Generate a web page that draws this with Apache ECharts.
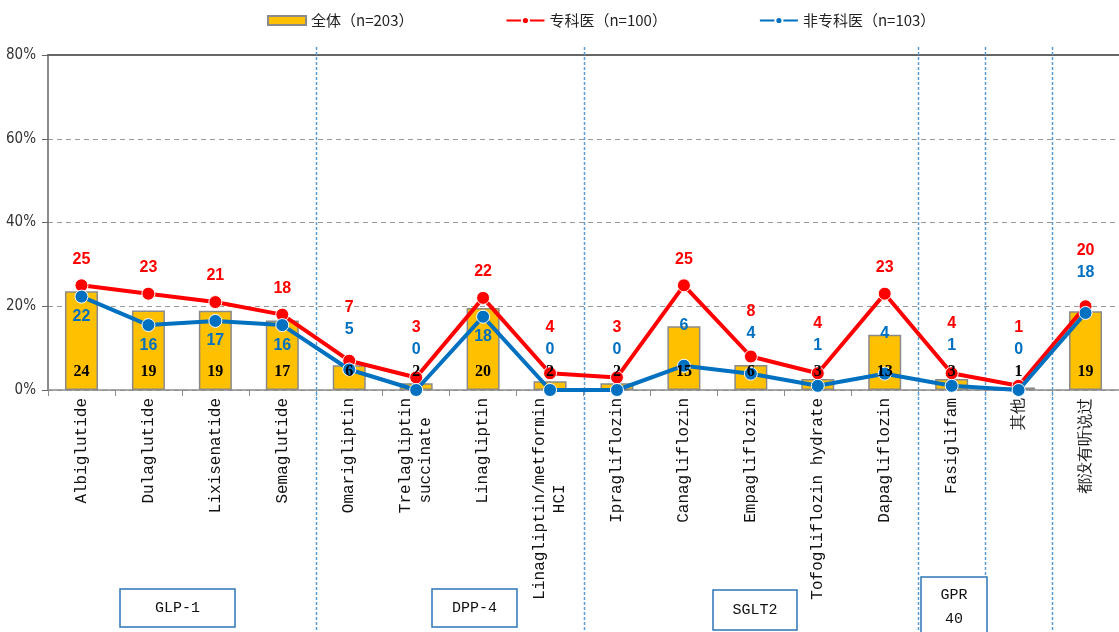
<!DOCTYPE html>
<html>
<head>
<meta charset="utf-8">
<title>chart</title>
<script src="https://cdn.jsdelivr.net/npm/echarts@6/dist/echarts.min.js"></script>
<style>
    html, body { margin: 0; padding: 0; background: #fff; }
    #main { width: 1119px; height: 632px; }
</style>
</head>
<body>
<div id="main"></div>
<script>
var categories = ['Albiglutide', 'Dulaglutide', 'Lixisenatide', 'Semaglutide', 'Omarigliptin', 'Trelagliptin\nsuccinate', 'Linagliptin', 'Linagliptin/metformin\nHCI', 'Ipragliflozin', 'Canagliflozin', 'Empagliflozin', 'Tofogliflozin hydrate', 'Dapagliflozin', 'Fasiglifam', '其他', '都没有听说过'];
var totalAll = [23.6, 19.0, 18.9, 16.6, 5.9, 1.6, 19.6, 2.1, 1.6, 15.2, 6.0, 2.6, 13.2, 2.6, 0.6, 18.8];
var specialist = [25, 23, 21, 18, 7, 3, 22, 4, 3, 25, 8, 4, 23, 4, 1, 20];
var nonSpecialist = [22.3, 15.5, 16.5, 15.5, 4.9, 0, 17.5, 0, 0, 5.8, 3.9, 1.0, 3.9, 1.0, 0, 18.4];
var yTicks = [0, 20, 40, 60, 80];
var seriesNames = ['全体（n=203）', '专科医（n=100）', '非专科医（n=103）'];
// group boxes under the axis
var groups = [
    { name: 'GLP-1', x: 120, y: 589, w: 115, h: 38 },
    { name: 'DPP-4', x: 432, y: 589, w: 85, h: 38 },
    { name: 'SGLT2', x: 713, y: 590, w: 84, h: 40 },
    { name: 'GPR\n40', x: 921, y: 577, w: 66, h: 60 }
];
// last category index of each group (separator goes after it)
var groupEnds = [3, 7, 12, 13, 14];

var gridTop = 55, gridBottom = 242, gridLeft = 48;
var pxPerUnit = (632 - gridTop - gridBottom) / 80;

var chart = echarts.init(document.getElementById('main'));

var roundFmt = function (p) {
    return Math.round(p.value);
};

// spread the red / blue value labels so they do not sit on each other
var redData = [], blueData = [];
for (var i = 0; i < categories.length; i++) {
    var r = specialist[i], b = nonSpecialist[i];
    var stacked = b < 10 || r - b <= 2;
    var blueDy, redDy;
    if (!stacked) {
        blueDy = 20;
        redDy = -26;
    } else {
        blueDy = -40;
        var blueAbs = -b * pxPerUnit + blueDy;
        var redAbs = Math.min(-r * pxPerUnit - 26, blueAbs - 22);
        redDy = redAbs + r * pxPerUnit;
    }
    redData.push({ value: r, label: { offset: [0, redDy] } });
    blueData.push({ value: b, label: { offset: [0, blueDy] } });
}

var xLabelFmt = function (v) {
    var lines = v.split('\n');
    if (lines.length < 2) return v;
    var max = 0;
    lines.forEach(function (l) { if (l.length > max) max = l.length; });
    return lines.map(function (l) {
        var pad = Math.round((max - l.length) / 2);
        return l + new Array(pad + 1).join(' ');
    }).join('\n');
};

var valueLabel = function (color, family) {
    return {
        show: true,
        position: 'inside',
        color: color,
        fontSize: 16,
        fontWeight: 'bold',
        fontFamily: family,
        formatter: roundFmt
    };
};

var option = {
    animation: false,
    backgroundColor: '#fff',
    legend: {
        top: 8,
        left: 262,
        itemGap: 92,
        itemWidth: 38,
        itemHeight: 9,
        textStyle: { fontSize: 15, color: '#222', fontFamily: 'Noto Sans CJK SC' },
        data: [
            { name: seriesNames[0], icon: 'rect' },
            { name: seriesNames[1] },
            { name: seriesNames[2] }
        ]
    },
    grid: { left: gridLeft, right: 0, top: gridTop, bottom: gridBottom },
    xAxis: [{
        type: 'category',
        data: categories,
        axisLine: { lineStyle: { color: '#8c8c8c', width: 1.5 } },
        axisTick: { show: true, interval: 0, length: 6, lineStyle: { color: '#8c8c8c' } },
        axisLabel: {
            interval: 0,
            rotate: 90,
            margin: 8,
            color: '#111',
            fontSize: 16,
            fontFamily: 'Liberation Mono',
            lineHeight: 20,
            formatter: xLabelFmt
        }
    }, {
        type: 'category',
        position: 'top',
        data: categories,
        axisLine: { lineStyle: { color: '#666', width: 2 } },
        axisTick: { show: false },
        axisLabel: { show: false }
    }],
    yAxis: {
        type: 'value',
        min: yTicks[0],
        max: yTicks[yTicks.length - 1],
        interval: 20,
        axisLine: { show: true, lineStyle: { color: '#666', width: 1.5 } },
        axisTick: { show: true, length: 6, lineStyle: { color: '#666' } },
        axisLabel: {
            formatter: '{value}%',
            margin: 12,
            color: '#333',
            fontSize: 15,
            fontFamily: 'Liberation Sans Narrow, DejaVu Sans Condensed, sans-serif'
        },
        splitLine: { lineStyle: { color: '#999', type: [5, 4], width: 1.2 } }
    },
    series: [{
        name: seriesNames[0],
        type: 'bar',
        data: totalAll,
        barWidth: 33,
        z: 1,
        itemStyle: { color: '#FFC000', borderColor: '#8a8a8a', borderWidth: 1.5 }
    }, {
        name: seriesNames[1],
        type: 'line',
        data: redData,
        symbol: 'circle',
        symbolSize: 13,
        z: 2,
        lineStyle: { color: '#FF0000', width: 4 },
        itemStyle: { color: '#FF0000', borderColor: '#fff', borderWidth: 1 },
        label: valueLabel('#FF0000', 'Liberation Sans')
    }, {
        name: seriesNames[2],
        type: 'line',
        data: blueData,
        symbol: 'circle',
        symbolSize: 13,
        z: 3,
        lineStyle: { color: '#0070C0', width: 4 },
        itemStyle: { color: '#0070C0', borderColor: '#fff', borderWidth: 1 },
        label: valueLabel('#0070C0', 'Liberation Sans')
    }, {
        // transparent copy of the bars so their labels sit above the lines
        name: 'barLabels',
        type: 'bar',
        data: totalAll,
        barWidth: 33,
        barGap: '-100%',
        z: 5,
        silent: true,
        itemStyle: { color: 'rgba(0,0,0,0)' },
        label: {
            show: true,
            position: 'insideBottom',
            distance: 10,
            color: '#000',
            fontSize: 16,
            fontWeight: 'bold',
            fontFamily: 'Liberation Serif',
            formatter: roundFmt
        }
    }]
};

chart.setOption(option);

// dashed separators between drug groups, placed through the category axis
var graphics = [];
groupEnds.forEach(function (idx) {
    var a = chart.convertToPixel({ xAxisIndex: 0 }, idx);
    var b2 = chart.convertToPixel({ xAxisIndex: 0 }, idx + 1);
    var x = Math.round((a + b2) / 2) + 0.5;
    graphics.push({
        type: 'line',
        z: 1,
        shape: { x1: x, y1: 47, x2: x, y2: 632 },
        style: { stroke: '#5B9BD5', lineWidth: 1.5, lineDash: [3, 2] }
    });
});
groups.forEach(function (g) {
    graphics.push({
        type: 'rect',
        z: 2,
        shape: { x: g.x, y: g.y, width: g.w, height: g.h },
        style: { fill: '#fff', stroke: '#2E75B6', lineWidth: 1.5 }
    });
    graphics.push({
        type: 'text',
        z: 3,
        x: g.x + g.w / 2,
        y: g.y + g.h / 2,
        style: {
            text: g.name,
            align: 'center',
            verticalAlign: 'middle',
            fill: '#111',
            fontSize: 15,
            lineHeight: 24,
            fontFamily: 'Liberation Mono'
        }
    });
});
chart.setOption({ graphic: graphics });
</script>
</body>
</html>
